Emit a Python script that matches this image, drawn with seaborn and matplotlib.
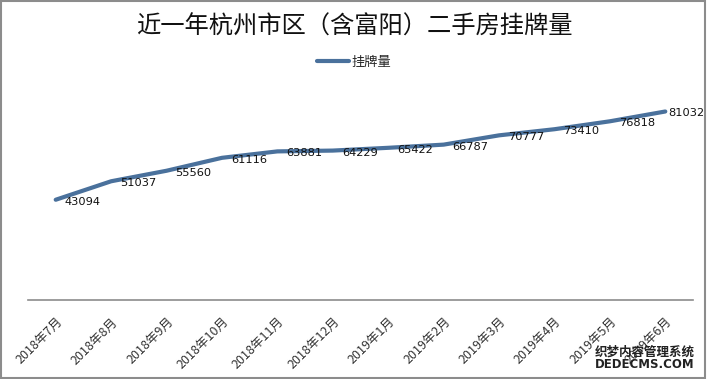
import pandas as pd
import seaborn as sns
import matplotlib.pyplot as plt
from matplotlib.patches import Rectangle

# %% data
months = ['2018年7月', '2018年8月', '2018年9月', '2018年10月', '2018年11月', '2018年12月',
          '2019年1月', '2019年2月', '2019年3月', '2019年4月', '2019年5月', '2019年6月']
listings = [43094, 51037, 55560, 61116, 63881, 64229,
            65422, 66787, 70777, 73410, 76818, 81032]
title = '近一年杭州市区（含富阳）二手房挂牌量'
series_name = '挂牌量'

df = pd.DataFrame({'month': months, 'count': listings})
df['pos'] = range(len(df))

# %% plot
sns.set_style('white')
plt.rcParams['font.family'] = ['Noto Sans CJK SC', 'DejaVu Sans']

fig = plt.figure(figsize=(7.08, 3.79), dpi=100)
ax = fig.add_axes([28 / 708, 79 / 379, 665 / 708, 221 / 379])

line_color = '#4a719c'
sns.lineplot(data=df, x='pos', y='count', ax=ax, color=line_color, linewidth=3,
             label=series_name, solid_capstyle='round', solid_joinstyle='round')

# value labels to the right of each point
last = len(df) - 1
for x, y in zip(df['pos'], df['count']):
    dx = 3 if x == last else 9
    ax.annotate(str(y), (x, y), xytext=(dx, -2), textcoords='offset pixels',
                fontsize=8.2, va='center', ha='left', color='#111111',
                family='DejaVu Sans')

ax.set_xlim(-0.5, len(months) - 0.5)
ax.set_ylim(0, 95000)
ax.set_xticks(df['pos'])
ax.set_xticklabels(months, rotation=45, ha='right', rotation_mode='anchor',
                   fontsize=9, color='#333333')
ax.tick_params(axis='x', length=0, pad=11)
ax.set_yticks([])
ax.set_xlabel('')
ax.set_ylabel('')
for side in ['top', 'left', 'right']:
    ax.spines[side].set_visible(False)
ax.spines['bottom'].set_color('#8c8c8c')
ax.spines['bottom'].set_linewidth(1.2)

ax.legend(loc='center', bbox_to_anchor=(0.5, 1 - 62 / 379),
          bbox_transform=fig.transFigure, frameon=False, fontsize=9.5,
          handlelength=2.4, handletextpad=0.2)

fig.text(0.5, 1 - 27 / 379, title, ha='center', va='center', fontsize=17.5,
         color='#111111')

# watermark in the corner
fig.text(645 / 708, 1 - 352 / 379, '织梦内容管理系统', ha='center', va='center',
         fontsize=9, color='#222222', fontweight='bold')
fig.text(645 / 708, 1 - 365 / 379, 'DEDECMS.COM', ha='center', va='center',
         fontsize=8.5, color='#222222', fontweight='bold', family='DejaVu Sans')

fig.patches.append(Rectangle((0.002, 0.003), 0.994, 0.994, transform=fig.transFigure,
                             fill=False, edgecolor='#8c8c8c', linewidth=1.5))

fig.savefig('out.png', dpi=100)
